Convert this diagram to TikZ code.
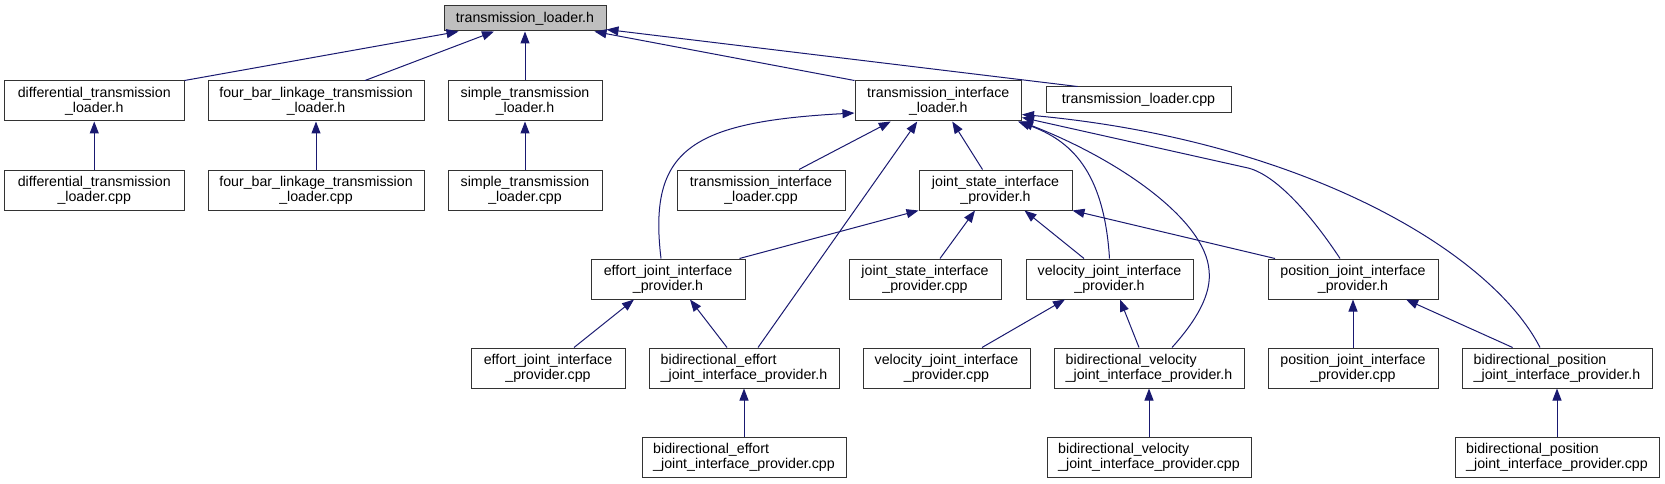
\documentclass[tikz,border=0pt]{standalone}
\usepackage{fontspec}
\setmainfont{Liberation Sans}
\usetikzlibrary{arrows.meta}
\definecolor{edgeblue}{HTML}{191970}
\definecolor{boxgray}{HTML}{BFBFBF}
\begin{document}
\begin{tikzpicture}[x=1pt,y=-1pt,
  box/.style={draw=black!80, line width=1pt, rectangle, fill=white, inner sep=0pt,
    font=\fontsize{14.2}{15}\selectfont, align=center, minimum height=40pt},
  lbox/.style={box, align=left},
  edge/.style={draw=edgeblue, line width=1pt, -{Triangle[length=12pt,width=9pt]}},
]
\useasboundingbox (0,0) rectangle (1665,484);
% row 0
\node[box, fill=boxgray, minimum width=162pt, minimum height=25pt] (TL) at (525,18.5) {transmission\_loader.h};
% row 1
\node[box, minimum width=179.5pt] (DH) at (94.25,101) {differential\_transmission\\\_loader.h};
\node[box, minimum width=216pt] (FH) at (316,101) {four\_bar\_linkage\_transmission\\\_loader.h};
\node[box, minimum width=154pt] (SH) at (525,101) {simple\_transmission\\\_loader.h};
\node[box, minimum width=166.5pt] (TIH) at (938.25,101) {transmission\_interface\\\_loader.h};
\node[box, minimum width=185pt, minimum height=26pt] (TLC) at (1138.5,100) {transmission\_loader.cpp};
% row 2
\node[box, minimum width=179.5pt] (DC) at (94.25,190) {differential\_transmission\\\_loader.cpp};
\node[box, minimum width=216pt] (FC) at (316,190) {four\_bar\_linkage\_transmission\\\_loader.cpp};
\node[box, minimum width=154pt] (SC) at (525,190) {simple\_transmission\\\_loader.cpp};
\node[box, minimum width=168pt] (TIC) at (761,190) {transmission\_interface\\\_loader.cpp};
\node[box, minimum width=153pt] (JSH) at (995.5,190) {joint\_state\_interface\\\_provider.h};
% row 3
\node[box, minimum width=154pt] (EH) at (668,279) {effort\_joint\_interface\\\_provider.h};
\node[box, minimum width=152pt] (JSC) at (925,279) {joint\_state\_interface\\\_provider.cpp};
\node[box, minimum width=167pt] (VH) at (1109.5,279) {velocity\_joint\_interface\\\_provider.h};
\node[box, minimum width=170pt] (PH) at (1353,279) {position\_joint\_interface\\\_provider.h};
% row 4
\node[box, minimum width=154pt] (EC) at (548,368) {effort\_joint\_interface\\\_provider.cpp};
\node[lbox, minimum width=190pt] (BEH) at (744,368) {bidirectional\_effort\\\_joint\_interface\_provider.h};
\node[box, minimum width=167pt] (VC) at (946.5,368) {velocity\_joint\_interface\\\_provider.cpp};
\node[lbox, minimum width=190pt] (BVH) at (1149,368) {bidirectional\_velocity\\\_joint\_interface\_provider.h};
\node[box, minimum width=170pt] (PC) at (1353,368) {position\_joint\_interface\\\_provider.cpp};
\node[lbox, minimum width=190pt] (BPH) at (1557,368) {bidirectional\_position\\\_joint\_interface\_provider.h};
% row 5
\node[lbox, minimum width=204pt] (BEC) at (744,457) {bidirectional\_effort\\\_joint\_interface\_provider.cpp};
\node[lbox, minimum width=204pt] (BVC) at (1149,457) {bidirectional\_velocity\\\_joint\_interface\_provider.cpp};
\node[lbox, minimum width=204pt] (BPC) at (1557,457) {bidirectional\_position\\\_joint\_interface\_provider.cpp};
% edges to TL
\draw[edge] (DH.north east) -- ([xshift=15pt]TL.south west);
\draw[edge] ([xshift=49pt]FH.north) -- ([xshift=-31pt]TL.south);
\draw[edge] (SH.north) -- (TL.south);
\draw[edge] (TIH.north west) -- ([xshift=-12pt]TL.south east);
\draw[edge] ([xshift=32pt]TLC.north west) -- ([yshift=2pt]TL.south east);
% row2 -> row1
\draw[edge] (DC.north) -- (DH.south);
\draw[edge] (FC.north) -- (FH.south);
\draw[edge] (SC.north) -- (SH.south);
\draw[edge] ([xshift=38pt]TIC.north) -- ([xshift=-47.5pt]TIH.south);
\draw[edge] ([xshift=-13pt]JSH.north) -- ([xshift=14pt]TIH.south);
% into TIH from lower rows
\draw[edge] ([xshift=-7pt]EH.north) .. controls (648,150) and (690,122) .. ([yshift=-12pt]TIH.west);
\draw[edge] ([xshift=14pt]BEH.north) -- ([xshift=-21pt]TIH.south);
\draw[edge] (VH.north) .. controls (1104,170) and (1070,140) .. ([xshift=-4pt]TIH.south east);
\draw[edge] ([xshift=23pt]BVH.north) .. controls (1195,322) and (1212,295) .. (1209,270)
  .. controls (1205,220) and (1120,160) .. ([xshift=-1pt]TIH.south east);
\draw[edge] ([xshift=-13pt]PH.north) .. controls (1318,225) and (1280,176) .. (1248,168) -- ([yshift=4pt]TIH.south east);
\draw[edge] ([xshift=-17pt]BPH.north) .. controls (1490,250) and (1300,140) .. ([yshift=7pt]TIH.south east);
% into JSH
\draw[edge] ([xshift=15pt]JSC.north) -- ([xshift=-20.5pt]JSH.south);
\draw[edge] ([xshift=-25.5pt]VH.north) -- ([xshift=29pt]JSH.south);
\draw[edge] ([xshift=-6pt]EH.north east) -- (JSH.south west);
\draw[edge] ([xshift=7.5pt]PH.north west) -- (JSH.south east);
% into row 3
\draw[edge] ([xshift=26pt]EC.north) -- ([xshift=-34pt]EH.south);
\draw[edge] ([xshift=-17pt]BEH.north) -- ([xshift=22pt]EH.south);
\draw[edge] ([xshift=35.5pt]VC.north) -- ([xshift=-44.5pt]VH.south);
\draw[edge] ([xshift=-10pt]BVH.north) -- ([xshift=10.5pt]VH.south);
\draw[edge] (PC.north) -- (PH.south);
\draw[edge] ([xshift=-44.4pt]BPH.north) -- ([xshift=53pt]PH.south);
% row5 -> row4
\draw[edge] (BEC.north) -- (BEH.south);
\draw[edge] (BVC.north) -- (BVH.south);
\draw[edge] (BPC.north) -- (BPH.south);
\end{tikzpicture}
\end{document}
